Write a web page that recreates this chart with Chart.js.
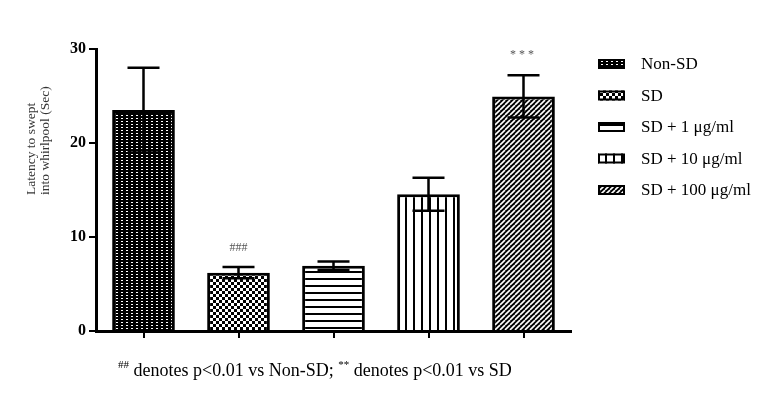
<!DOCTYPE html>
<html>
<head>
<meta charset="utf-8">
<script src="https://cdn.jsdelivr.net/npm/chart.js@4/dist/chart.umd.min.js"></script>
<style>
  html, body { margin: 0; padding: 0; background: #fff; }
  #wrap { width: 775px; height: 396px; }
</style>
</head>
<body>
<div id="wrap"><canvas id="chart" width="775" height="396"></canvas></div>
<script>
// data
const groups = ['Non-SD', 'SD', 'SD + 1 \u03bcg/ml', 'SD + 10 \u03bcg/ml', 'SD + 100 \u03bcg/ml'];
const latency = [23.5, 6.2, 6.95, 14.55, 24.95];
const errors = [4.5, 0.6, 0.45, 1.75, 2.25];
const marks = ['', '###', '', '', '***'];
const markLevel = [0, 8.8, 0, 0, 29.4];
const yTicks = [0, 10, 20, 30];
const yTitle = ['Latency to swept', 'into whirlpool (Sec)'];

const SERIF = '"Liberation Serif", "DejaVu Serif", serif';

// --- hatch patterns ---
function makePattern(w, h, draw) {
  const c = document.createElement('canvas');
  c.width = w; c.height = h;
  const g = c.getContext('2d');
  draw(g, w, h);
  return document.getElementById('chart').getContext('2d').createPattern(c, 'repeat');
}

const patterns = [
  // fine dots on black
  makePattern(5, 3, (g, w, h) => {
    g.fillStyle = '#000'; g.fillRect(0, 0, w, h);
    g.fillStyle = '#fff'; g.fillRect(1, 1, 2, 1);
  }),
  // checker
  makePattern(6, 6, (g, w, h) => {
    g.fillStyle = '#000'; g.fillRect(0, 0, w, h);
    g.fillStyle = '#fff'; g.fillRect(0, 0, 3, 3); g.fillRect(3, 3, 3, 3);
  }),
  // horizontal lines
  makePattern(8, 7, (g, w, h) => {
    g.fillStyle = '#fff'; g.fillRect(0, 0, w, h);
    g.fillStyle = '#000'; g.fillRect(0, 5, w, 2);
  }),
  // vertical lines
  makePattern(8, 8, (g, w, h) => {
    g.fillStyle = '#fff'; g.fillRect(0, 0, w, h);
    g.fillStyle = '#000'; g.fillRect(5, 0, 2, h);
  }),
  // diagonal
  makePattern(5, 5, (g, w, h) => {
    g.fillStyle = '#000'; g.fillRect(0, 0, w, h);
    g.strokeStyle = '#fff'; g.lineWidth = 1.6;
    for (let k = -1; k <= 1; k++) {
      g.beginPath(); g.moveTo(k * w, h); g.lineTo(k * w + w, 0); g.stroke();
    }
  })
];

// --- error bars + significance marks ---
const errorBars = {
  id: 'errorBars',
  afterDatasetsDraw(chart) {
    const ctx = chart.ctx, y = chart.scales.y;
    const meta = chart.getDatasetMeta(0);
    ctx.save();
    ctx.strokeStyle = '#000';
    ctx.lineWidth = 2.5;
    meta.data.forEach((bar, i) => {
      const top = y.getPixelForValue(latency[i] + errors[i]);
      const bot = y.getPixelForValue(latency[i] - errors[i]);
      ctx.beginPath();
      ctx.moveTo(bar.x, top); ctx.lineTo(bar.x, bot);
      ctx.moveTo(bar.x - 16, top); ctx.lineTo(bar.x + 16, top);
      ctx.moveTo(bar.x - 16, bot); ctx.lineTo(bar.x + 16, bot);
      ctx.stroke();
      if (marks[i]) {
        ctx.fillStyle = '#555';
        ctx.font = '12px ' + SERIF;
        ctx.textAlign = 'center';
        ctx.textBaseline = 'middle';
        ctx.letterSpacing = marks[i] === '***' ? '3px' : '0px';
        ctx.fillText(marks[i], bar.x, y.getPixelForValue(markLevel[i]));
      }
    });
    ctx.restore();
  }
};

// --- y title, legend on the right and footnote ---
const extras = {
  id: 'extras',
  afterDraw(chart) {
    const ctx = chart.ctx;
    ctx.save();

    ctx.fillStyle = '#333';
    ctx.font = '13.5px ' + SERIF;
    ctx.textAlign = 'left';
    ctx.textBaseline = 'middle';
    yTitle.forEach((line, i) => {
      ctx.save();
      ctx.translate(31 + i * 14, 195);
      ctx.rotate(-Math.PI / 2);
      ctx.fillText(line, 0, 0);
      ctx.restore();
    });

    groups.forEach((name, i) => {
      const cy = 64 + i * 31.5;
      ctx.fillStyle = patterns[i];
      ctx.fillRect(598, cy - 5, 27, 10);
      ctx.strokeStyle = '#000';
      ctx.lineWidth = 2;
      ctx.strokeRect(599, cy - 4, 25, 8);
      ctx.fillStyle = '#000';
      ctx.font = '17px ' + SERIF;
      ctx.textAlign = 'left';
      ctx.textBaseline = 'middle';
      ctx.fillText(name, 641, cy + 1);
    });

    // footnote with superscripts
    const parts = [
      ['##', true], [' denotes p<0.01 vs Non-SD; ', false],
      ['**', true], [' denotes p<0.01 vs SD', false]
    ];
    let x = 118;
    const base = 376;
    ctx.textBaseline = 'alphabetic';
    parts.forEach(([t, sup]) => {
      ctx.font = (sup ? '11px ' : '18px ') + SERIF;
      ctx.fillText(t, x, sup ? base - 8 : base);
      x += ctx.measureText(t).width;
    });
    ctx.restore();
  }
};

new Chart(document.getElementById('chart'), {
  type: 'bar',
  data: {
    labels: groups,
    datasets: [{
      data: latency,
      backgroundColor: patterns,
      borderColor: '#000',
      borderWidth: 3,
      categoryPercentage: 1,
      barPercentage: 0.66
    }]
  },
  options: {
    responsive: false,
    animation: false,
    layout: { padding: { left: 67, right: 204, top: 49, bottom: 58 } },
    plugins: { legend: { display: false }, tooltip: { enabled: false } },
    scales: {
      x: {
        offset: true,
        grid: { offset: false, drawOnChartArea: false, drawTicks: true, tickLength: 7, color: '#000', lineWidth: 2 },
        border: { display: true, color: '#000', width: 3 },
        ticks: { display: false }
      },
      y: {
        min: 0,
        max: 30,
        afterBuildTicks: axis => { axis.ticks = yTicks.map(v => ({ value: v })); },
        grid: { drawOnChartArea: false, drawTicks: true, tickLength: 7, color: '#000', lineWidth: 2 },
        border: { display: true, color: '#000', width: 3 },
        ticks: { color: '#000', padding: 3, font: { family: SERIF, size: 16, weight: 'bold' } }
      }
    }
  },
  plugins: [errorBars, extras]
});
</script>
</body>
</html>
